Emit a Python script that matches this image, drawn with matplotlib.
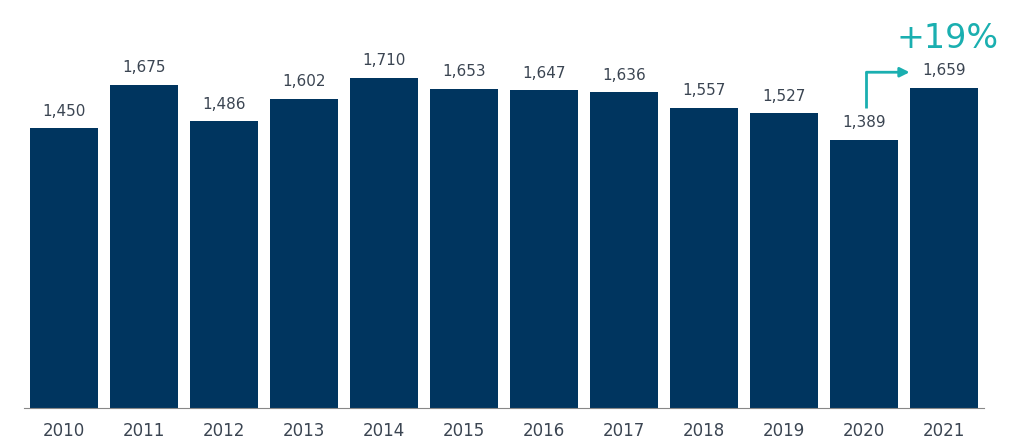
import matplotlib.pyplot as plt
import numpy as np

plt.rcParams["font.family"] = ["DejaVu Sans"]

years = ["2010", "2011", "2012", "2013", "2014", "2015", "2016", "2017", "2018", "2019", "2020", "2021"]
values = [1450, 1675, 1486, 1602, 1710, 1653, 1647, 1636, 1557, 1527, 1389, 1659]

BAR = "#00355f"
TEAL = "#1aafb0"
TXT = "#3b4552"

fig = plt.figure(figsize=(10.24, 4.43), dpi=100)
ax = fig.add_axes([24/1024, 35/443, 960/1024, 384/443])

x = np.arange(len(years))
ax.bar(x, values, width=0.86, color=BAR)
for xi, v in zip(x, values):
    ax.text(xi, v + 50, f"{v:,}", ha="center", va="bottom", fontsize=11, color=TXT)

ax.set_xlim(-0.5, 11.5)
ax.set_ylim(0, 1990)
ax.set_xticks(x)
ax.set_xticklabels(years, fontsize=12, color=TXT)
ax.tick_params(axis="x", length=0, pad=10)
ax.set_yticks([])
for s in ["top", "right", "left"]:
    ax.spines[s].set_visible(False)
ax.spines["bottom"].set_color("#888888")

# growth arrow from 2020 to 2021
ax.annotate("", xy=(10.57, 1740), xytext=(10.03, 1740),
            arrowprops=dict(arrowstyle="-|>", color=TEAL, lw=2, mutation_scale=14, shrinkA=0, shrinkB=0))
ax.plot([10.03, 10.03], [1555, 1742], color=TEAL, lw=2, solid_capstyle="butt")
ax.text(11.05, 1915, "+19%", ha="center", va="center", fontsize=24, color=TEAL)

fig.savefig("out.png", dpi=100)
